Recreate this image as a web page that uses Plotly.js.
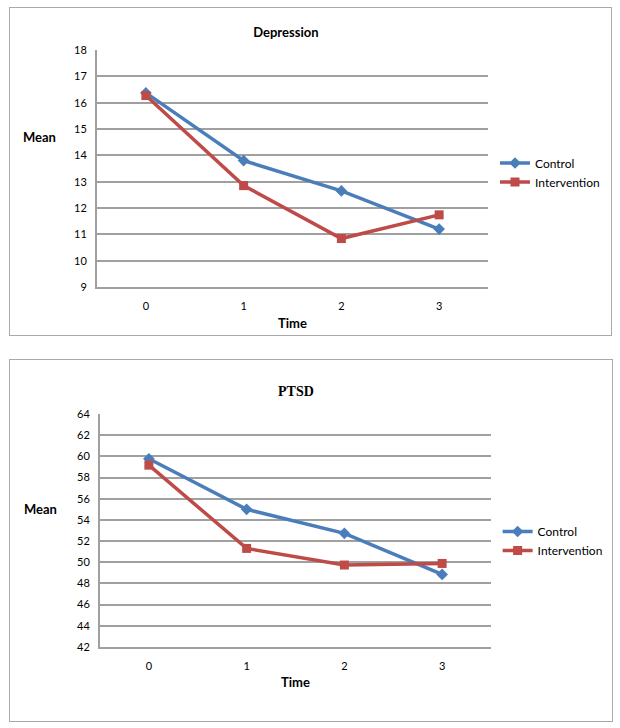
<!DOCTYPE html>
<html>
<head>
<meta charset="utf-8">
<script src="https://cdn.plot.ly/plotly-3.0.1.min.js"></script>
<style>
    body { margin: 0; background: #ffffff; }
    .box { position: absolute; border: 1px solid #a9a9a9; }
</style>
</head>
<body>
<div class="box" style="left:9px; top:7px;"><div id="depression"></div></div>
<div class="box" style="left:9px; top:359px;"><div id="ptsd"></div></div>
<script>
const time = [0, 1, 2, 3];
const seriesNames = ['Control', 'Intervention'];

const depressionControl = [16.37, 13.8, 12.65, 11.2];
const depressionIntervention = [16.27, 12.85, 10.84, 11.74];

const ptsdControl = [59.77, 55.0, 52.73, 48.85];
const ptsdIntervention = [59.17, 51.31, 49.74, 49.89];

const blue = '#4a7ebb';
const red = '#be4b48';
const gridColor = '#a0a0a0';

function makeTraces(control, intervention) {
    return [
        {x: time, y: control, name: seriesNames[0], mode: 'lines+markers',
            line: {color: blue, width: 3.5}, marker: {symbol: 'diamond', size: 9, color: blue}},
        {x: time, y: intervention, name: seriesNames[1], mode: 'lines+markers',
            line: {color: red, width: 3.5}, marker: {symbol: 'square', size: 9, color: red}}
    ];
}

function makeLayout(opts) {
    return {
        width: opts.width,
        height: opts.height,
        margin: opts.margin,
        title: {
            text: '<b>' + opts.title + '</b>',
            font: {family: opts.titleFont, size: opts.titleSize, color: '#000'},
            x: opts.titleX, xref: 'container', xanchor: 'center',
            y: opts.titleY, yref: 'container', yanchor: 'middle'
        },
        xaxis: {
            range: [-0.5, 3.5],
            tickvals: time,
            showgrid: false,
            zeroline: false,
            showline: true,
            linecolor: gridColor,
            linewidth: 2,
            ticks: '',
            ticklabelstandoff: 8,
            tickfont: {family: 'Lato', size: 11, color: '#000'},
            fixedrange: true
        },
        yaxis: {
            range: opts.yRange,
            dtick: opts.dtick,
            showgrid: true,
            gridcolor: gridColor,
            gridwidth: 2,
            zeroline: false,
            showline: true,
            linecolor: gridColor,
            linewidth: 2,
            ticks: '',
            ticklabelstandoff: 6,
            tickfont: {family: 'Lato', size: 11, color: '#000'},
            fixedrange: true
        },
        legend: {
            xref: 'container', yref: 'container',
            x: opts.legendX, xanchor: 'left',
            y: opts.legendY, yanchor: 'middle',
            font: {family: 'Lato', size: 12, color: '#000'},
            itemwidth: 30,
            bgcolor: 'rgba(0,0,0,0)'
        },
        annotations: [
            {text: '<b>Mean</b>', xref: 'paper', yref: 'paper', x: opts.meanX, y: opts.meanY,
                xanchor: 'center', yanchor: 'middle', showarrow: false,
                font: {family: 'Lato', size: 13, color: '#000'}},
            {text: '<b>Time</b>', xref: 'paper', yref: 'paper', x: 0.5, y: opts.timeY,
                xanchor: 'center', yanchor: 'middle', showarrow: false,
                font: {family: 'Lato', size: 13, color: '#000'}}
        ],
        plot_bgcolor: '#ffffff',
        paper_bgcolor: '#ffffff',
        showlegend: true
    };
}

const config = {displayModeBar: false, staticPlot: true};

// top chart: inner box starts at page (10, 8)
Plotly.newPlot('depression', makeTraces(depressionControl, depressionIntervention), makeLayout({
    width: 601, height: 327,
    margin: {l: 87, r: 123, t: 42, b: 48, pad: 0},
    title: 'Depression', titleFont: 'Lato', titleSize: 13,
    titleX: 0.459, titleY: 0.924,
    yRange: [9, 18], dtick: 1,
    legendX: 0.807, legendY: 1 - (172.5 - 8) / 327,
    meanX: -0.146, meanY: 0.635,
    timeY: -0.154
}), config);

// bottom chart: inner box starts at page (10, 360)
Plotly.newPlot('ptsd', makeTraces(ptsdControl, ptsdIntervention), makeLayout({
    width: 602, height: 361,
    margin: {l: 90, r: 121, t: 54, b: 74, pad: 0},
    title: 'PTSD', titleFont: 'Liberation Serif', titleSize: 14,
    titleX: 0.475, titleY: 0.914,
    yRange: [42, 64], dtick: 2,
    legendX: 0.81, legendY: 1 - (541 - 360) / 361,
    meanX: -0.151, meanY: 0.592,
    timeY: -0.15
}), config);
</script>
</body>
</html>
